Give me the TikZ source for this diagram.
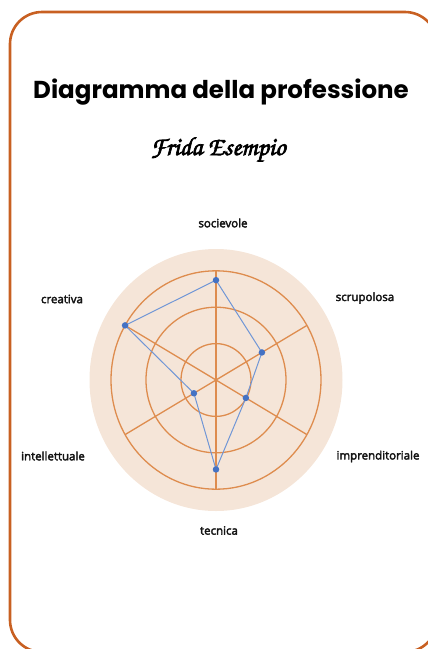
\documentclass[tikz,border=0pt]{standalone}
\usepackage{fontspec}
\setmainfont{Open Sans}
\newfontfamily\titlefont{Poppins}
\definecolor{framecol}{RGB}{200,96,34}
\definecolor{discfill}{RGB}{245,229,216}
\definecolor{gridcol}{RGB}{222,140,78}
\definecolor{seriesline}{RGB}{112,150,214}
\definecolor{seriesdot}{RGB}{68,114,196}
\definecolor{labelcol}{RGB}{20,20,20}
\newcommand{\fakebold}[1]{\special{pdf:literal direct 2 Tr 0.7 w}#1\special{pdf:literal direct 0 Tr 0 w}}
\newcommand{\semibold}[1]{\special{pdf:literal direct 2 Tr 0.35 w}#1\special{pdf:literal direct 0 Tr 0 w}}
\tikzset{
  framebox/.style={draw=framecol, line width=2.6pt, rounded corners=32pt},
  ring/.style={draw=gridcol, line width=1.3pt},
  spoke/.style={draw=gridcol, line width=1.3pt},
  serie/.style={draw=seriesline, line width=1pt},
  dot/.style={circle, fill=seriesdot, inner sep=0pt, minimum size=6.5pt},
  axlabel/.style={font=\fontsize{11.5}{13}\selectfont, text=labelcol, inner sep=0pt},
}
\newcommand{\cx}{216}
\newcommand{\cy}{380}
\newcommand{\ys}{1.04}
\begin{document}
\begin{tikzpicture}[x=1pt,y=-1pt]
\useasboundingbox (0,0) rectangle (428,649);
\clip (0,0) rectangle (428,649);
\draw[framebox] (10,12) rectangle (437,652);
% title
\node[anchor=base, inner sep=0pt, font=\titlefont\fontsize{24.5}{28}\selectfont\bfseries] (title) at (221,98) {Diagramma della professione};
\node[anchor=base, inner sep=0pt, font=\fontsize{26}{30}\usefont{T1}{pzc}{mb}{it}] (name) at (218,155) {\fakebold{Frida Esempio}};
% background disc
\fill[discfill] (\cx,\cy) ellipse [x radius=126.5pt, y radius=131pt];
% rings
\foreach \r in {35,70,105} {
  \draw[ring] (\cx,\cy) ellipse [x radius=\r pt, y radius=\ys*\r pt];
}
% spoke ends
\foreach \a/\n in {90/s1,30/s2,-30/s3,-90/s4,-150/s5,150/s6} {
  \coordinate (\n) at ({\cx+105*cos(\a)},{\cy-\ys*105*sin(\a)});
}
\coordinate (c) at (\cx,\cy);
\draw[spoke] (s1) -- (s4);
\draw[spoke] (s2) -- (s5);
\draw[spoke] (s3) -- (s6);
% data points
\foreach \a/\r/\n in {90/96/p1,30/53/p2,-30/34.5/p3,-90/86/p4,-150/25.5/p5,150/105/p6} {
  \coordinate (\n) at ({\cx+\r*cos(\a)},{\cy-\ys*\r*sin(\a)});
}
\draw[serie] (p1) -- (p2) -- (p3) -- (p4) -- (p5) -- (p6) -- cycle;
\foreach \n in {p1,p2,p3,p4,p5,p6} { \node[dot] (d\n) at (\n) {}; }
% labels
\node[axlabel] (l1) at (223,223) {\semibold{socievole}};
\node[axlabel] (l2) at (365,298) {\semibold{scrupolosa}};
\node[axlabel] (l3) at (378,456.5) {\semibold{imprenditoriale}};
\node[axlabel] (l4) at (219,530.5) {\semibold{tecnica}};
\node[axlabel] (l5) at (53,456) {\semibold{intellettuale}};
\node[axlabel] (l6) at (62,299) {\semibold{creativa}};
\end{tikzpicture}
\end{document}
